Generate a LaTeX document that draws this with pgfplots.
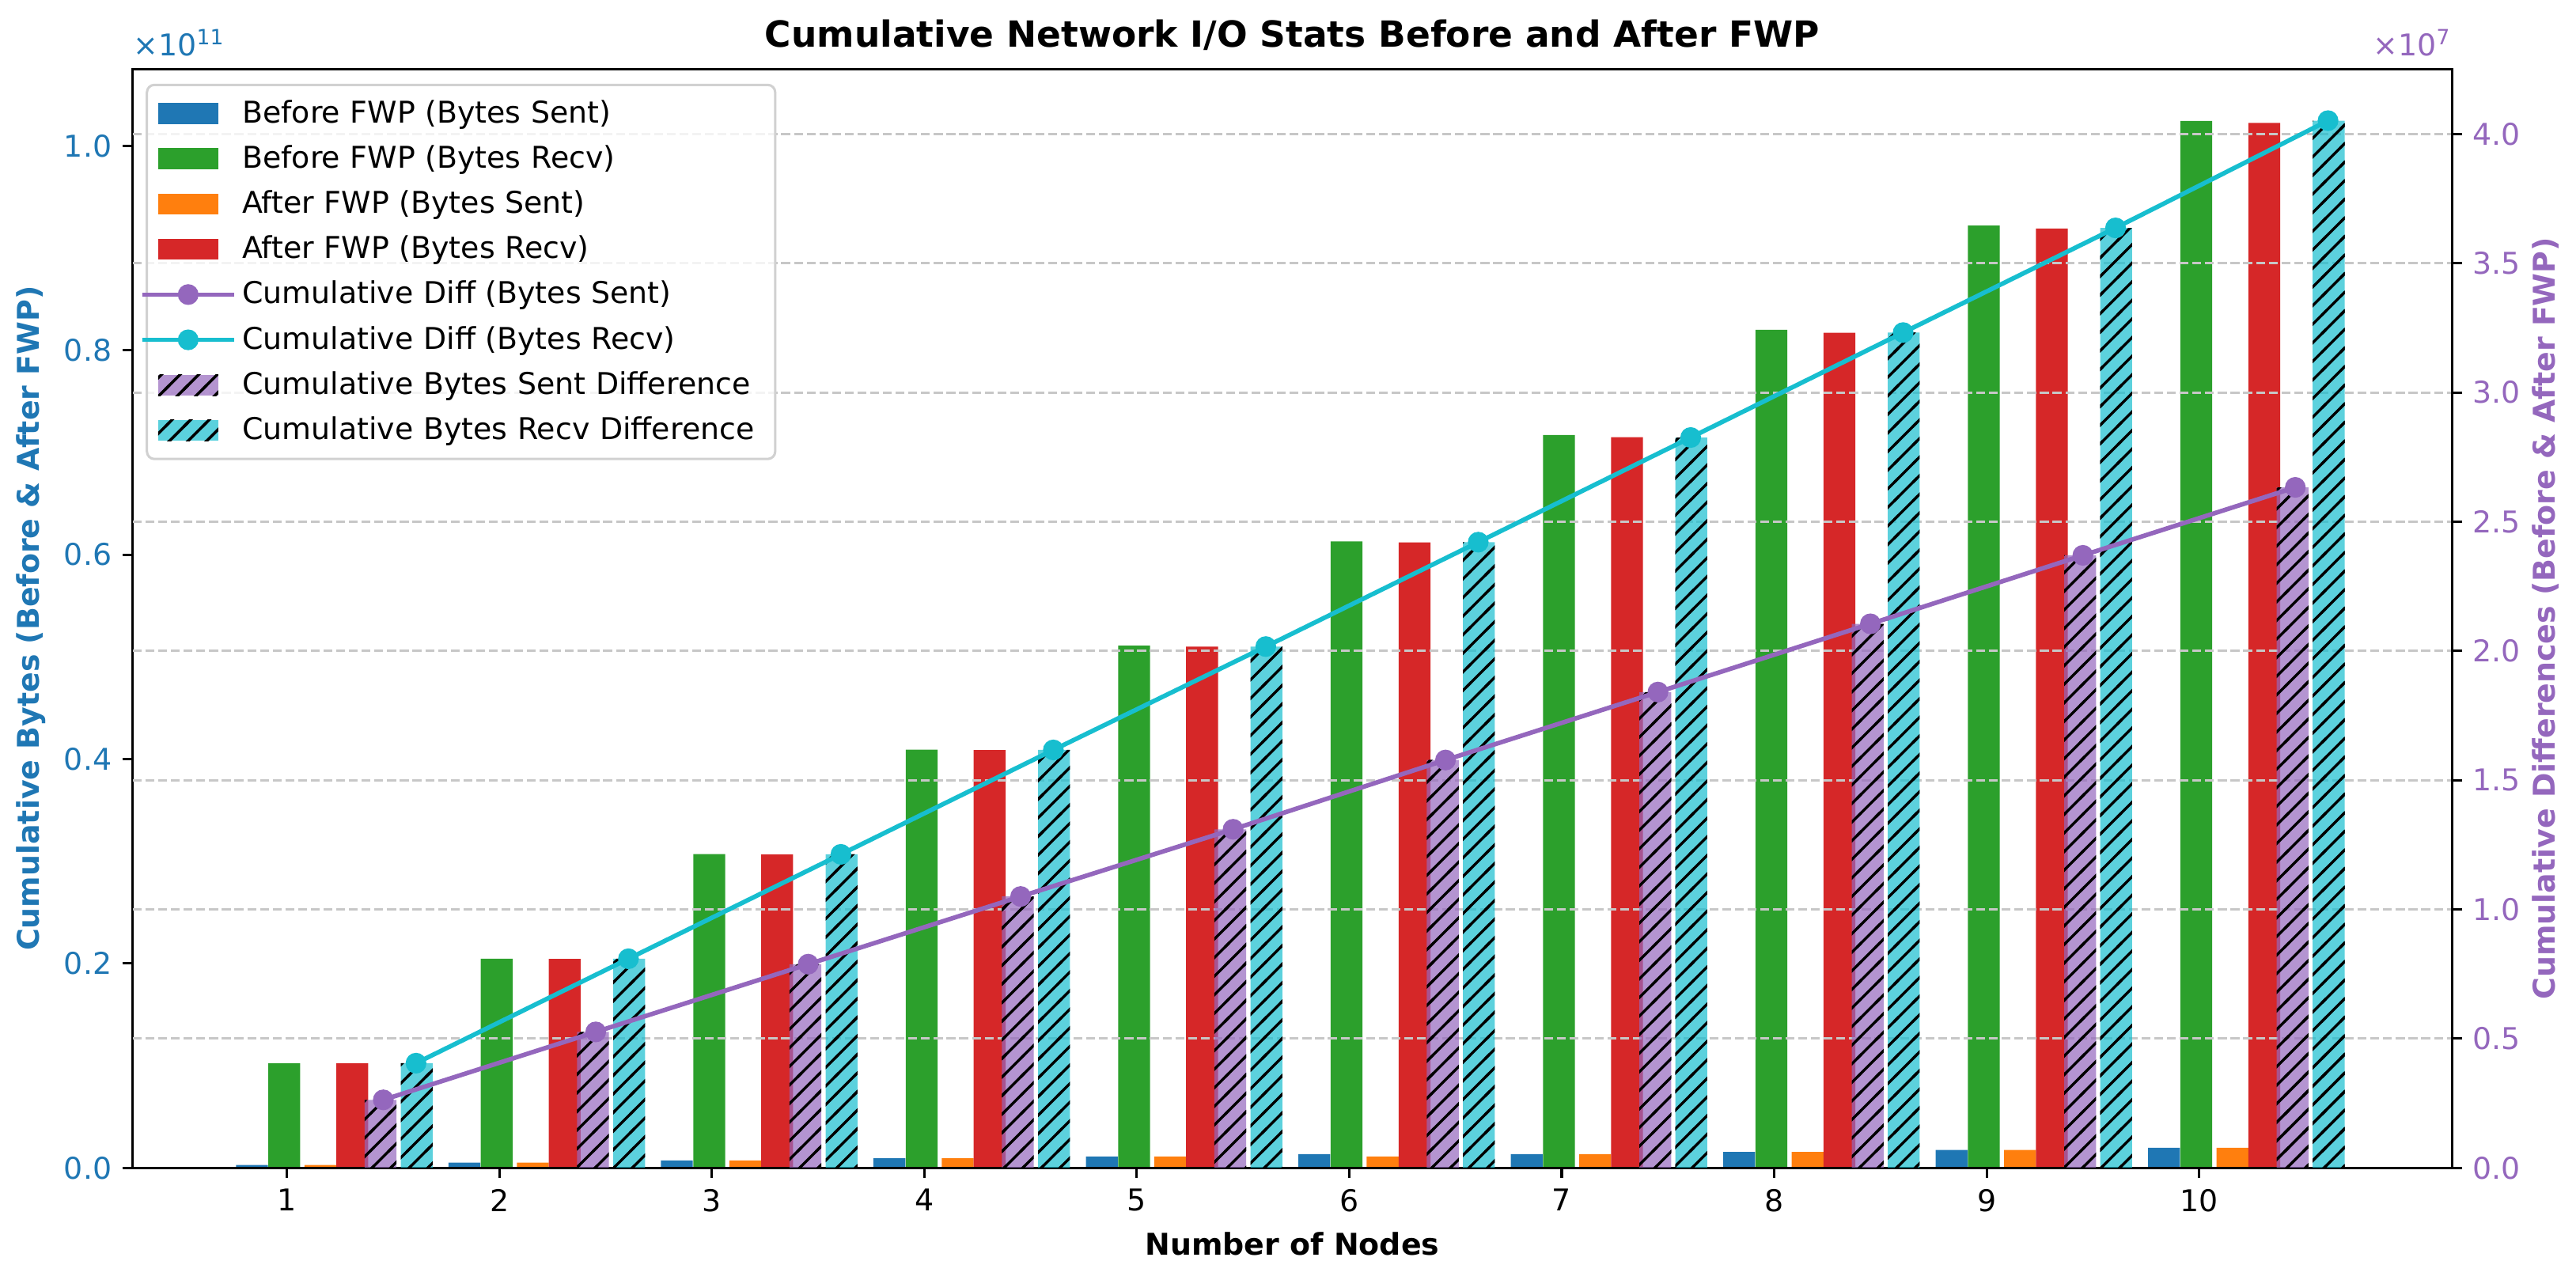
\documentclass[border=0pt]{standalone}
\usepackage{fontspec}
\setmainfont{DejaVu Sans}
\usepackage{pgfplots}
\pgfplotsset{compat=1.18}
\usepackage{pgfplotstable}
\usetikzlibrary{patterns}

\definecolor{tabblue}{HTML}{1F77B4}
\definecolor{taborange}{HTML}{FF7F0E}
\definecolor{tabgreen}{HTML}{2CA02C}
\definecolor{tabred}{HTML}{D62728}
\definecolor{tabpurple}{HTML}{9467BD}
\definecolor{tabcyan}{HTML}{17BECF}

% matplotlib-like "//" hatch
\pgfdeclarepatternformonly{hatchne}{\pgfpoint{-1pt}{-1pt}}{\pgfpoint{7.2pt}{7.2pt}}%
  {\pgfpoint{6.2pt}{6.2pt}}{%
  \pgfsetlinewidth{0.9pt}%
  \pgfpathmoveto{\pgfpoint{-1pt}{-1pt}}%
  \pgfpathlineto{\pgfpoint{7.2pt}{7.2pt}}%
  \pgfusepath{stroke}}

% n, bytes sent/recv before and after FWP, cumulative differences
\pgfplotstableread{
n  bs      br         as      ar         ds       dr
1  2.8e8   1.023e10   2.8e8   1.022e10   2.63e6   4.05e6
2  5.2e8   2.046e10   5.2e8   2.044e10   5.26e6   8.09e6
3  7.2e8   3.069e10   7.2e8   3.066e10   7.88e6   1.213e7
4  9.3e8   4.092e10   9.3e8   4.088e10   1.050e7  1.617e7
5  1.12e9  5.11e10    1.12e9  5.10e10    1.310e7  2.017e7
6  1.35e9  6.13e10    1.12e9  6.12e10    1.578e7  2.421e7
7  1.35e9  7.17e10    1.35e9  7.15e10    1.841e7  2.826e7
8  1.56e9  8.20e10    1.56e9  8.17e10    2.105e7  3.232e7
9  1.75e9  9.22e10    1.75e9  9.19e10    2.370e7  3.637e7
10 1.96e9  1.0244e11  1.96e9  1.0224e11  2.633e7  4.052e7
}\iodata

\pgfplotsset{
  common/.style={
    width=773.4pt, height=366.5pt, scale only axis,
    at={(0,0)}, anchor=south west,
    xmin=0.274, xmax=11.19, ymin=0,
    ybar, bar width=0.15, bar shift=0pt,
    tick align=outside, major tick length=3.5pt,
    every tick/.style={black, line width=0.8pt},
    axis line style={line width=0.8pt},
    /pgf/number format/assume math mode=true,
  },
  onedec/.style={
    /pgf/number format/fixed,
    /pgf/number format/fixed zerofill,
    /pgf/number format/precision=1,
  },
  barleg/.style={legend image code/.code={%
    \path[sharp corners, draw=none, ##1] (0pt,-3.5pt) rectangle (20pt,3.5pt);}},
  lineleg/.style={legend image code/.code={%
    \draw[sharp corners, mark repeat=2, mark phase=2, ##1]
      plot coordinates {(0pt,0pt) (10pt,0pt) (20pt,0pt)};}},
  hatch/.style={fill=#1, fill opacity=0.7,
    postaction={pattern=hatchne, pattern color=black, fill opacity=1, draw=none}},
}

\begin{document}
\begin{tikzpicture}[font=\fontsize{10}{12}\selectfont]
\begin{axis}[common,
  xtick={1,2,3,4,5,6,7,8,9,10}, xtick pos=left,
  ymax=1.0752e11, ytick pos=left,
  ytick={0,2e10,4e10,6e10,8e10,1e11},
  scaled y ticks=base 10:-11,
  yticklabel style={color=tabblue, onedec},
  ytick scale label code/.code={×10\textsuperscript{11}},
  every y tick scale label/.style={at={(axis description cs:0,1)},
    anchor=base west, yshift=4.35pt, inner sep=0pt, color=tabblue},
  title={Cumulative Network I/O Stats Before and After FWP},
  title style={at={(axis description cs:0.5,1)}, anchor=base, yshift=1.3pt,
    inner sep=0pt, font=\bfseries\fontsize{12}{14}\selectfont},
  xlabel={Number of Nodes},
  every axis x label/.style={at={(axis description cs:0.5,0)}, anchor=base,
    yshift=-29pt, inner sep=0pt, font=\bfseries},
  ylabel={Cumulative Bytes (Before \& After FWP)},
  every axis y label/.style={at={(axis description cs:-0.0405,0.5)}, rotate=90,
    anchor=base, inner sep=0pt, font=\bfseries, color=tabblue},
]
\addplot[fill=tabblue, draw=none] table[x expr=\thisrow{n}-0.165, y=bs]{\iodata};
\addplot[fill=tabgreen, draw=none] table[x expr=\thisrow{n}-0.013, y=br]{\iodata};
\addplot[fill=taborange, draw=none] table[x expr=\thisrow{n}+0.157, y=as]{\iodata};
\addplot[fill=tabred, draw=none] table[x expr=\thisrow{n}+0.307, y=ar]{\iodata};
\end{axis}

\begin{axis}[common,
  axis x line*=bottom, xtick=\empty, axis y line*=right,
  ymax=4.252e7,
  ytick={0,5e6,1e7,1.5e7,2e7,2.5e7,3e7,3.5e7,4e7},
  scaled y ticks=base 10:-7,
  yticklabel style={color=tabpurple, onedec},
  ytick scale label code/.code={×10\textsuperscript{7}},
  every y tick scale label/.style={at={(axis description cs:1,1)},
    anchor=base east, yshift=4.35pt, inner sep=0pt, color=tabpurple},
  ymajorgrids,
  grid style={line width=0.8pt, color=black!22, dash pattern=on 2.96pt off 1.28pt},
  ylabel={Cumulative Differences (Before \& After FWP)},
  every axis y label/.style={at={(axis description cs:1.04435,0.5)}, rotate=90,
    anchor=base, inner sep=0pt, font=\bfseries, color=tabpurple},
  legend style={at={(axis description cs:0,1)}, anchor=north west,
    xshift=4.3pt, yshift=-4.9pt, draw=black!18, line width=0.8pt,
    rounded corners=2.5pt, fill=white, fill opacity=0.8, text opacity=1,
    inner xsep=-2.3pt, inner ysep=3pt, row sep=2pt,
    nodes={inner sep=2pt, text depth=0.15em},
    /tikz/every even column/.append style={text width=178pt}},
  legend cell align=left,
]
\addlegendimage{barleg, fill=tabblue, fill opacity=1}
\addlegendimage{barleg, fill=tabgreen, fill opacity=1}
\addlegendimage{barleg, fill=taborange, fill opacity=1}
\addlegendimage{barleg, fill=tabred, fill opacity=1}
\addlegendimage{lineleg, tabpurple, line width=1.5pt, mark=*, mark size=2.7pt,
  draw opacity=1, fill opacity=1}
\addlegendimage{lineleg, tabcyan, line width=1.5pt, mark=*, mark size=2.7pt,
  draw opacity=1, fill opacity=1}
\addlegendimage{barleg, hatch=tabpurple}
\addlegendimage{barleg, hatch=tabcyan}

\addplot[forget plot, draw=none, hatch=tabpurple]
  table[x expr=\thisrow{n}+0.44, y=ds]{\iodata};
\addplot[forget plot, draw=none, hatch=tabcyan]
  table[x expr=\thisrow{n}+0.61, y=dr]{\iodata};
\addplot[forget plot, sharp plot, tabpurple, line width=1.5pt, mark=*,
  mark size=2.7pt] table[x expr=\thisrow{n}+0.453, y=ds]{\iodata};
\addplot[forget plot, sharp plot, tabcyan, line width=1.5pt, mark=*,
  mark size=2.7pt] table[x expr=\thisrow{n}+0.607, y=dr]{\iodata};

\legend{Before FWP (Bytes Sent), Before FWP (Bytes Recv),
  After FWP (Bytes Sent), After FWP (Bytes Recv),
  Cumulative Diff (Bytes Sent), Cumulative Diff (Bytes Recv),
  Cumulative Bytes Sent Difference, Cumulative Bytes Recv Difference}
\end{axis}
\pgfresetboundingbox
\path (-44.3pt,-37.3pt) rectangle (814.8pt,389.5pt);
\end{tikzpicture}
\end{document}
